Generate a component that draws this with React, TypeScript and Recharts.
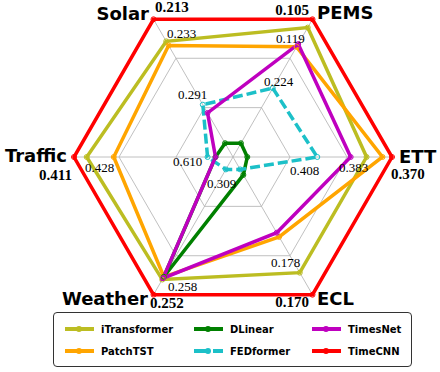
import React from "react";
import { RadarChart, Radar, PolarGrid, PolarAngleAxis, PolarRadiusAxis, Legend } from "recharts";

// axes, clockwise from upper right
const axes = ["PEMS", "ETT", "ECL", "Weather", "Traffic", "Solar"];

// normalised scores (1 = best, outer ring)
const iTransformer = [0.94, 0.84, 0.84, 0.89, 0.92, 0.84];
const patchTST = [0.8, 0.94, 0.58, 0.87, 0.75, 0.81];
const dLinear = [0.1, 0.09, 0.13, 0.87, 0.11, 0.1];
const fedformer = [0.5, 0.53, 0.09, 0.09, 0.16, 0.38];
const timesNet = [0.82, 0.74, 0.55, 0.88, 0.11, 0.32];
const timeCNN = [1, 1, 1, 1, 1, 1];

// per-axis value labels
const outerLabels = ["0.105", "0.370", "0.170", "0.252", "0.411", "0.213"];
const ringLabels = ["0.119", "0.383", "0.178", "0.258", "0.428", "0.233"];
const innerLabels = ["0.224", "0.408", "", "0.309", "0.610", "0.291"];

const series = [
  { key: "iTransformer", name: "iTransformer", color: "#bcbd22", values: iTransformer, dash: undefined },
  { key: "PatchTST", name: "PatchTST", color: "#ffa500", values: patchTST, dash: undefined },
  { key: "DLinear", name: "DLinear", color: "#008000", values: dLinear, dash: undefined },
  { key: "FEDformer", name: "FEDformer", color: "#1cc0c8", values: fedformer, dash: "10 4" },
  { key: "TimesNet", name: "TimesNet", color: "#bf00bf", values: timesNet, dash: undefined },
  { key: "TimeCNN", name: "TimeCNN", color: "#ff0000", values: timeCNN, dash: undefined },
];

const data = axes.map((axis, i) => {
  const row: Record<string, string | number> = { axis };
  series.forEach((s) => (row[s.key] = s.values[i]));
  return row;
});

const CX = 233;
const CY = 157;
const R = 159;
const W = 440;
const H = 372;

// label placement relative to the chart centre
const namePos = [
  { dx: 84, dy: -138, anchor: "start" },
  { dx: 166, dy: 6, anchor: "start" },
  { dx: 84, dy: 148, anchor: "start" },
  { dx: -85, dy: 148, anchor: "end" },
  { dx: -166, dy: 5, anchor: "end" },
  { dx: -84, dy: -137, anchor: "end" },
];
const outerPos = [
  { dx: 76, dy: -142, anchor: "end" },
  { dx: 158, dy: 22, anchor: "start" },
  { dx: 76, dy: 150, anchor: "end" },
  { dx: -83, dy: 151, anchor: "start" },
  { dx: -161, dy: 23, anchor: "end" },
  { dx: -78, dy: -145, anchor: "start" },
];
const ringPos = [
  { dx: 43, dy: -114 },
  { dx: 106, dy: 15 },
  { dx: 38, dy: 110 },
  { dx: -65, dy: 134 },
  { dx: -148, dy: 15 },
  { dx: -66, dy: -119 },
];
const innerPos = [
  { dx: 31, dy: -71 },
  { dx: 57, dy: 18 },
  { dx: 0, dy: 0 },
  { dx: -26, dy: 31 },
  { dx: -60, dy: 9 },
  { dx: -55, dy: -58 },
];

function Labels() {
  return (
    <svg width={W} height={H} style={{ position: "absolute", left: 0, top: 0, pointerEvents: "none" }}>
      {axes.map((a, i) => (
        <text
          key={a}
          x={CX + namePos[i].dx}
          y={CY + namePos[i].dy}
          textAnchor={namePos[i].anchor as "start" | "end"}
          fontFamily="DejaVu Sans"
          fontWeight="bold"
          fontSize={18}
          fill="#000"
        >
          {a}
        </text>
      ))}
      {outerLabels.map((t, i) => (
        <text
          key={"o" + i}
          x={CX + outerPos[i].dx}
          y={CY + outerPos[i].dy}
          textAnchor={outerPos[i].anchor as "start" | "end"}
          fontFamily="Liberation Serif"
          fontWeight="bold"
          fontSize={15}
          fill="#000"
        >
          {t}
        </text>
      ))}
      {ringLabels.map((t, i) => (
        <text key={"r" + i} x={CX + ringPos[i].dx} y={CY + ringPos[i].dy} fontFamily="Liberation Serif" fontSize={13} fill="#000">
          {t}
        </text>
      ))}
      {innerLabels.map((t, i) =>
        t ? (
          <text key={"i" + i} x={CX + innerPos[i].dx} y={CY + innerPos[i].dy} fontFamily="Liberation Serif" fontSize={13} fill="#000">
            {t}
          </text>
        ) : null
      )}
    </svg>
  );
}

function LegendBox() {
  const cols = [
    [series[0], series[1]],
    [series[2], series[3]],
    [series[4], series[5]],
  ];
  const colX = [11, 140, 258];
  return (
    <div
      style={{
        position: "absolute",
        left: 53,
        top: 312,
        width: 357,
        height: 53,
        border: "1.5px solid #333",
        borderRadius: 4,
        background: "#fff",
      }}
    >
      <svg width={357} height={53}>
        {cols.map((col, c) =>
          col.map((s, r) => {
            const y = 16 + r * 22;
            const x = colX[c];
            return (
              <g key={s.key}>
                <line x1={x} y1={y} x2={x + 29} y2={y} stroke={s.color} strokeWidth={4} strokeDasharray={s.dash ? "15 4 10 0" : undefined} />
                <circle cx={x + 14} cy={y} r={3} fill={s.color} />
                <text x={x + 36} y={y + 4} fontFamily="DejaVu Sans" fontWeight="bold" fontSize={10} fill="#000">
                  {s.name}
                </text>
              </g>
            );
          })
        )}
      </svg>
    </div>
  );
}

export default function App() {
  return (
    <div style={{ position: "absolute", left: 0, top: 0, width: W, height: H, background: "#fff" }}>
      <RadarChart width={W} height={H} data={data} cx={CX} cy={CY} outerRadius={R} startAngle={60} endAngle={-300}>
        <PolarGrid gridType="polygon" polarRadius={[57, 114]} stroke="#b0b0b0" strokeWidth={0.8} />
        <PolarAngleAxis dataKey="axis" tick={false} axisLine={false} tickLine={false} />
        <PolarRadiusAxis domain={[0, 1]} tick={false} axisLine={false} />
        {series.map((s) => (
          <Radar
            key={s.key}
            name={s.name}
            dataKey={s.key}
            stroke={s.color}
            strokeWidth={3.5}
            strokeDasharray={s.dash}
            fill="none"
            fillOpacity={0}
            dot={{ r: 2.5, fill: s.color, stroke: s.color, strokeWidth: 1, strokeDasharray: "" }}
            isAnimationActive={false}
          />
        ))}
        <Legend content={() => null} />
      </RadarChart>
      <Labels />
      <LegendBox />
    </div>
  );
}
